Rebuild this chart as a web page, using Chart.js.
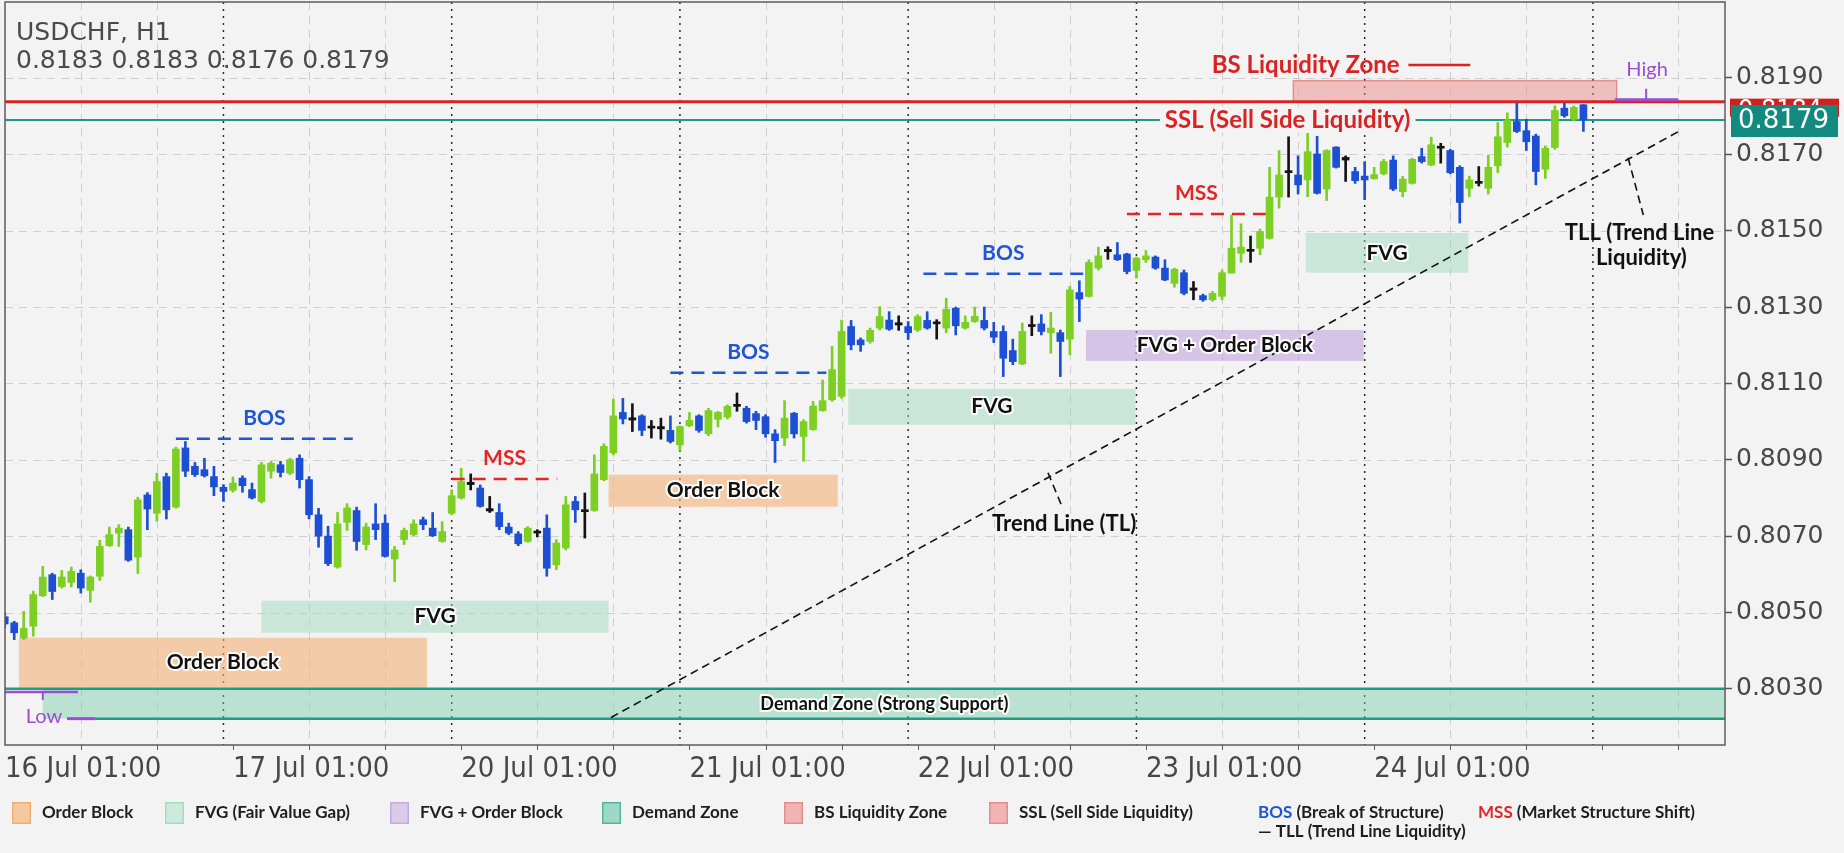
<!DOCTYPE html>
<html>
<head>
<meta charset="utf-8">
<script src="https://cdn.jsdelivr.net/npm/chart.js@4.4.1/dist/chart.umd.min.js"></script>
<style>
  html, body { margin: 0; padding: 0; background: #f3f3f3; }
  #wrap { width: 1844px; height: 853px; }
</style>
</head>
<body>
<div id="wrap"><canvas id="chart" width="1844" height="853"></canvas></div>
<script>
// ========== DATA ==========
const symbol = "USDCHF, H1";
const lastQuote = "0.8183 0.8183 0.8176 0.8179";

// H1 candles, the first one sits at index 1 (16 Jul 01:00 is index 0)
const opens = [
  0.80489, 0.80473, 0.80433, 0.80464, 0.80544, 0.80599, 0.80568, 0.80579, 0.80603, 0.80558,
  0.80595, 0.80675, 0.80708, 0.80717, 0.80645, 0.80808, 0.80760, 0.80856, 0.80776, 0.80931,
  0.80883, 0.80874, 0.80856, 0.80828, 0.80820, 0.80852, 0.80822, 0.80791, 0.80870, 0.80887,
  0.80865, 0.80904, 0.80848, 0.80756, 0.80700, 0.80619, 0.80736, 0.80767, 0.80678, 0.80732,
  0.80734, 0.80640, 0.80691, 0.80704, 0.80743, 0.80721, 0.80686, 0.80760, 0.80800, 0.80841,
  0.80826, 0.80772, 0.80762, 0.80724, 0.80706, 0.80686, 0.80712, 0.80721, 0.80625, 0.80669,
  0.80791, 0.80768, 0.80767, 0.80848, 0.80918, 0.81024, 0.81010, 0.81015, 0.80987, 0.80987,
  0.80977, 0.80939, 0.80989, 0.81015, 0.80968, 0.81006, 0.81012, 0.81044, 0.81035, 0.81021,
  0.81013, 0.80968, 0.80957, 0.81022, 0.80961, 0.80979, 0.81029, 0.81057, 0.81066, 0.81249,
  0.81214, 0.81210, 0.81245, 0.81266, 0.81259, 0.81249, 0.81240, 0.81265, 0.81260, 0.81245,
  0.81297, 0.81245, 0.81262, 0.81265, 0.81236, 0.81236, 0.81186, 0.81151, 0.81251, 0.81256,
  0.81233, 0.81233, 0.81216, 0.81338, 0.81328, 0.81402, 0.81451, 0.81437, 0.81439, 0.81396,
  0.81424, 0.81431, 0.81402, 0.81362, 0.81390, 0.81350, 0.81330, 0.81319, 0.81328, 0.81389,
  0.81441, 0.81450, 0.81454, 0.81480, 0.81588, 0.81657, 0.81646, 0.81633, 0.81701, 0.81609,
  0.81719, 0.81692, 0.81655, 0.81643, 0.81636, 0.81649, 0.81685, 0.81602, 0.81624, 0.81694,
  0.81672, 0.81720, 0.81710, 0.81666, 0.81611, 0.81628, 0.81611, 0.81670, 0.81731, 0.81786,
  0.81762, 0.81748, 0.81661, 0.81718, 0.81821, 0.81792, 0.81830
];
const highs = [
  0.80500, 0.80477, 0.80503, 0.80556, 0.80621, 0.80603, 0.80610, 0.80619, 0.80612, 0.80596,
  0.80689, 0.80724, 0.80730, 0.80724, 0.80802, 0.80814, 0.80865, 0.80865, 0.80933, 0.80948,
  0.80893, 0.80904, 0.80883, 0.80835, 0.80855, 0.80858, 0.80839, 0.80893, 0.80896, 0.80896,
  0.80904, 0.80913, 0.80856, 0.80773, 0.80726, 0.80762, 0.80785, 0.80776, 0.80734, 0.80785,
  0.80756, 0.80673, 0.80721, 0.80743, 0.80750, 0.80762, 0.80738, 0.80821, 0.80878, 0.80863,
  0.80834, 0.80804, 0.80785, 0.80734, 0.80712, 0.80725, 0.80717, 0.80756, 0.80691, 0.80804,
  0.80804, 0.80813, 0.80913, 0.80942, 0.81059, 0.81061, 0.81047, 0.81018, 0.81003, 0.81009,
  0.81015, 0.80989, 0.81024, 0.81018, 0.81035, 0.81027, 0.81044, 0.81075, 0.81040, 0.81027,
  0.81018, 0.80979, 0.81055, 0.81024, 0.81005, 0.81053, 0.81109, 0.81197, 0.81266, 0.81265,
  0.81219, 0.81245, 0.81301, 0.81288, 0.81277, 0.81262, 0.81280, 0.81288, 0.81267, 0.81323,
  0.81300, 0.81277, 0.81300, 0.81300, 0.81260, 0.81251, 0.81216, 0.81258, 0.81277, 0.81280,
  0.81286, 0.81240, 0.81354, 0.81369, 0.81424, 0.81457, 0.81458, 0.81469, 0.81441, 0.81431,
  0.81448, 0.81434, 0.81424, 0.81402, 0.81397, 0.81367, 0.81334, 0.81341, 0.81397, 0.81541,
  0.81518, 0.81486, 0.81504, 0.81666, 0.81710, 0.81746, 0.81696, 0.81760, 0.81747, 0.81712,
  0.81720, 0.81696, 0.81666, 0.81681, 0.81666, 0.81687, 0.81696, 0.81642, 0.81690, 0.81716,
  0.81745, 0.81729, 0.81713, 0.81670, 0.81643, 0.81668, 0.81698, 0.81783, 0.81809, 0.81834,
  0.81792, 0.81753, 0.81722, 0.81827, 0.81834, 0.81827, 0.81830
];
const lows = [
  0.80460, 0.80429, 0.80429, 0.80438, 0.80542, 0.80534, 0.80564, 0.80567, 0.80551, 0.80527,
  0.80584, 0.80673, 0.80673, 0.80634, 0.80602, 0.80717, 0.80739, 0.80745, 0.80773, 0.80856,
  0.80856, 0.80855, 0.80806, 0.80791, 0.80815, 0.80815, 0.80797, 0.80787, 0.80852, 0.80855,
  0.80861, 0.80826, 0.80745, 0.80671, 0.80623, 0.80616, 0.80715, 0.80663, 0.80664, 0.80691,
  0.80645, 0.80581, 0.80678, 0.80701, 0.80717, 0.80699, 0.80684, 0.80756, 0.80797, 0.80821,
  0.80776, 0.80762, 0.80717, 0.80704, 0.80675, 0.80684, 0.80698, 0.80595, 0.80612, 0.80664,
  0.80736, 0.80695, 0.80765, 0.80845, 0.80913, 0.80994, 0.80974, 0.80963, 0.80957, 0.80954,
  0.80944, 0.80924, 0.80987, 0.80972, 0.80963, 0.80986, 0.81007, 0.81027, 0.80996, 0.80979,
  0.80959, 0.80893, 0.80937, 0.80957, 0.80896, 0.80977, 0.81027, 0.81053, 0.81061, 0.81188,
  0.81184, 0.81205, 0.81240, 0.81239, 0.81239, 0.81216, 0.81236, 0.81242, 0.81216, 0.81233,
  0.81227, 0.81242, 0.81260, 0.81240, 0.81207, 0.81118, 0.81149, 0.81149, 0.81225, 0.81227,
  0.81179, 0.81118, 0.81175, 0.81262, 0.81326, 0.81397, 0.81425, 0.81422, 0.81387, 0.81376,
  0.81417, 0.81399, 0.81369, 0.81352, 0.81332, 0.81319, 0.81315, 0.81315, 0.81319, 0.81389,
  0.81417, 0.81417, 0.81437, 0.81478, 0.81559, 0.81588, 0.81596, 0.81589, 0.81596, 0.81579,
  0.81664, 0.81629, 0.81624, 0.81582, 0.81635, 0.81646, 0.81605, 0.81589, 0.81622, 0.81677,
  0.81670, 0.81677, 0.81649, 0.81520, 0.81589, 0.81617, 0.81596, 0.81652, 0.81719, 0.81757,
  0.81710, 0.81620, 0.81637, 0.81713, 0.81797, 0.81788, 0.81760
];
const closes = [
  0.80470, 0.80447, 0.80459, 0.80547, 0.80593, 0.80555, 0.80593, 0.80608, 0.80564, 0.80593,
  0.80673, 0.80704, 0.80721, 0.80637, 0.80795, 0.80771, 0.80843, 0.80769, 0.80928, 0.80870,
  0.80861, 0.80858, 0.80829, 0.80817, 0.80839, 0.80832, 0.80800, 0.80887, 0.80891, 0.80867,
  0.80900, 0.80848, 0.80756, 0.80700, 0.80628, 0.80732, 0.80774, 0.80686, 0.80724, 0.80717,
  0.80647, 0.80664, 0.80715, 0.80732, 0.80730, 0.80701, 0.80712, 0.80806, 0.80843, 0.80835,
  0.80778, 0.80766, 0.80725, 0.80708, 0.80680, 0.80721, 0.80708, 0.80616, 0.80682, 0.80782,
  0.80769, 0.80764, 0.80863, 0.80935, 0.81015, 0.81007, 0.81004, 0.80977, 0.80983, 0.80981,
  0.80948, 0.80987, 0.81003, 0.80977, 0.81029, 0.81024, 0.81040, 0.81040, 0.81000, 0.81003,
  0.80968, 0.80950, 0.81009, 0.80968, 0.81000, 0.81041, 0.81055, 0.81136, 0.81236, 0.81201,
  0.81201, 0.81239, 0.81275, 0.81242, 0.81253, 0.81233, 0.81275, 0.81245, 0.81256, 0.81294,
  0.81251, 0.81260, 0.81276, 0.81245, 0.81221, 0.81166, 0.81157, 0.81236, 0.81249, 0.81236,
  0.81245, 0.81210, 0.81345, 0.81321, 0.81417, 0.81434, 0.81445, 0.81424, 0.81393, 0.81428,
  0.81434, 0.81402, 0.81371, 0.81399, 0.81336, 0.81344, 0.81319, 0.81336, 0.81390, 0.81454,
  0.81457, 0.81446, 0.81498, 0.81588, 0.81646, 0.81652, 0.81620, 0.81707, 0.81598, 0.81710,
  0.81666, 0.81685, 0.81631, 0.81633, 0.81647, 0.81681, 0.81609, 0.81635, 0.81687, 0.81681,
  0.81725, 0.81716, 0.81652, 0.81574, 0.81633, 0.81624, 0.81666, 0.81746, 0.81790, 0.81760,
  0.81733, 0.81655, 0.81716, 0.81815, 0.81801, 0.81823, 0.81790
];

const dayLabels = ["16 Jul 01:00", "17 Jul 01:00", "20 Jul 01:00", "21 Jul 01:00",
                   "22 Jul 01:00", "23 Jul 01:00", "24 Jul 01:00"];
const dayStarts = [24, 48, 72, 96, 120, 144, 168]; // candle index of each new day
const yTicks = [0.8030, 0.8050, 0.8070, 0.8090, 0.8110, 0.8130, 0.8150, 0.8170, 0.8190];

const lastPrice = 0.8179;     // SSL line / current bid
const liquidityHigh = 0.81838; // red line under the BS zone

// ========== SMC MARKUP (candle index, price) ==========
const orderBlocks = [
  { from: 2.5, to: 45.4, top: 0.80434, bottom: 0.80303 },
  { from: 64.5, to: 88.6, top: 0.80861, bottom: 0.80777 }
];
const fvgZones = [
  { from: 28.0, to: 64.5, top: 0.80531, bottom: 0.80447 },
  { from: 89.7, to: 119.9, top: 0.81086, bottom: 0.80992 },
  { from: 137.8, to: 154.9, top: 0.81494, bottom: 0.81390 }
];
const fvgObZone = { from: 114.7, to: 143.9, top: 0.81240, bottom: 0.81159 };
const bsZone = { from: 136.5, to: 170.5, top: 0.81893, bottom: 0.81838 };
const demandZone = { from: 5.0, top: 0.80300, bottom: 0.80222, labelAt: 93.5 };
const bosLines = [
  { from: 19.0, to: 37.6, level: 0.80955 },
  { from: 71.0, to: 87.4, level: 0.81128 },
  { from: 97.6, to: 114.4, level: 0.81387 }
];
const mssLines = [
  { from: 48.0, to: 59.1, level: 0.80850 },
  { from: 119.0, to: 133.6, level: 0.81544 }
];
const trendLine = { from: 64.75, fromPrice: 0.80225, to: 176.95, toPrice: 0.81759 };
const highMark = { from: 170.3, to: 177.0, tick: 173.6, level: 0.81843 };
const lowMark = { from: 1.03, to: 8.7, tick: 5.0, level: 0.80292 };

// ========== LOOK ==========
const BG = "#f3f3f3";
const GREEN = "#7dcf24";
const BLUE = "#1c4fd3";
const DOJI = "#141414";
const RED = "#d92323";
const TEAL = "#1b9a8b";
const PURPLE = "#9b4fd0";
const X_MIN = 1.03, X_MAX = 181.89;
const Y_MIN = 0.80153, Y_MAX = 0.82099;

const candleColors = opens.map((o, i) => {
  const d = closes[i] - o;
  if (Math.abs(d) < 0.000075) return DOJI;
  return d > 0 ? GREEN : BLUE;
});
const bodies = opens.map((o, i) => ({ x: i + 1, y: [o, closes[i]] }));
const wicks = opens.map((o, i) => ({ x: i + 1, y: [lows[i], highs[i]] }));
const labelTicks = [X_MIN].concat(dayStarts.slice(0, 6).map((d) => d + 1));

// ========== HELPERS ==========
function hline(ctx, x1, x2, y) {
  ctx.beginPath(); ctx.moveTo(x1, y); ctx.lineTo(x2, y); ctx.stroke();
}
function vline(ctx, x, y1, y2) {
  ctx.beginPath(); ctx.moveTo(x, y1); ctx.lineTo(x, y2); ctx.stroke();
}
function seg(ctx, x1, y1, x2, y2) {
  ctx.beginPath(); ctx.moveTo(x1, y1); ctx.lineTo(x2, y2); ctx.stroke();
}
function haloText(ctx, text, x, y, font, color, halo) {
  ctx.font = font;
  ctx.textAlign = "center";
  ctx.textBaseline = "middle";
  if (halo) {
    ctx.lineJoin = "round";
    ctx.lineWidth = 4;
    ctx.strokeStyle = "rgba(255,255,255,0.95)";
    ctx.strokeText(text, x, y);
  }
  ctx.fillStyle = color;
  ctx.fillText(text, x, y);
}
function zoneRect(ctx, x, y, z, fill) {
  const x1 = x.getPixelForValue(z.from), x2 = x.getPixelForValue(z.to);
  const y1 = y.getPixelForValue(z.top), y2 = y.getPixelForValue(z.bottom);
  ctx.fillStyle = fill;
  ctx.fillRect(x1, y1, x2 - x1, y2 - y1);
}
// no extra edge padding for the axes, the plot runs to the canvas edges
function noEdgePadding(scale) {
  scale.paddingTop = 0;
  scale.paddingBottom = 0;
  scale.paddingLeft = 0;
  scale.paddingRight = 0;
}

// ========== OVERLAY PLUGIN ==========
const smcOverlay = {
  id: "smcOverlay",
  beforeDraw(chart) {
    const { ctx, width, height } = chart;
    ctx.save();
    ctx.fillStyle = BG;
    ctx.fillRect(0, 0, width, height);
    ctx.restore();
  },

  beforeDatasetsDraw(chart) {
    const { ctx, chartArea: a, scales: { x, y } } = chart;
    ctx.save();
    ctx.beginPath();
    ctx.rect(a.left, a.top, a.right - a.left, a.bottom - a.top);
    ctx.clip();

    // grid
    ctx.lineWidth = 1;
    ctx.strokeStyle = "#cfcfcf";
    ctx.setLineDash([8, 6]);
    yTicks.forEach((v) => hline(ctx, a.left, a.right, Math.round(y.getPixelForValue(v)) + 0.5));
    for (let i = 9; i < X_MAX; i += 8) {
      if ((i - 1) % 24 === 0) continue;
      vline(ctx, Math.round(x.getPixelForValue(i)) + 0.5, a.top, a.bottom);
    }
    ctx.strokeStyle = "#2a2a2a";
    ctx.lineWidth = 1.5;
    ctx.setLineDash([2, 5]);
    dayStarts.forEach((d) => vline(ctx, x.getPixelForValue(d), a.top, a.bottom));
    ctx.setLineDash([]);

    // zones
    orderBlocks.forEach((z) => zoneRect(ctx, x, y, z, "rgba(244,176,118,0.6)"));
    fvgZones.forEach((z) => zoneRect(ctx, x, y, z, "rgba(150,215,185,0.45)"));
    zoneRect(ctx, x, y, fvgObZone, "rgba(185,150,220,0.5)");

    // demand zone
    const dTop = y.getPixelForValue(demandZone.top), dBot = y.getPixelForValue(demandZone.bottom);
    const dx = x.getPixelForValue(demandZone.from);
    ctx.fillStyle = "rgba(120,205,170,0.45)";
    ctx.fillRect(dx, dTop, a.right - dx, dBot - dTop);
    ctx.strokeStyle = "#1f9c82";
    ctx.lineWidth = 2.5;
    hline(ctx, a.left, a.right, dTop);
    hline(ctx, x.getPixelForValue(10.5), a.right, dBot);

    // buy-side liquidity zone
    const b1 = x.getPixelForValue(bsZone.from), b2 = x.getPixelForValue(bsZone.to);
    const bt = y.getPixelForValue(bsZone.top), bb = y.getPixelForValue(bsZone.bottom);
    ctx.fillStyle = "rgba(235,140,140,0.5)";
    ctx.fillRect(b1, bt, b2 - b1, bb - bt);
    ctx.strokeStyle = "rgba(220,95,95,0.6)";
    ctx.lineWidth = 1.5;
    ctx.strokeRect(b1, bt, b2 - b1, bb - bt);

    // liquidity high + price line
    ctx.strokeStyle = RED;
    ctx.lineWidth = 3;
    hline(ctx, a.left, a.right, y.getPixelForValue(liquidityHigh));
    ctx.strokeStyle = TEAL;
    ctx.lineWidth = 2;
    hline(ctx, a.left, a.right, y.getPixelForValue(lastPrice));
    ctx.restore();
  },

  afterDatasetsDraw(chart) {
    const { ctx, chartArea: a, scales: { x, y } } = chart;
    const px = (v) => x.getPixelForValue(v);
    const py = (v) => y.getPixelForValue(v);
    ctx.save();
    ctx.beginPath();
    ctx.rect(a.left, a.top, a.right - a.left, a.bottom - a.top);
    ctx.clip();

    // BOS / MSS levels
    ctx.lineWidth = 2.5;
    ctx.setLineDash([13, 8]);
    ctx.strokeStyle = "#1f55d6";
    bosLines.forEach((l) => hline(ctx, px(l.from), px(l.to), py(l.level)));
    ctx.strokeStyle = "#e22626";
    mssLines.forEach((l) => hline(ctx, px(l.from), px(l.to), py(l.level)));

    // trend line
    ctx.strokeStyle = "#111";
    ctx.lineWidth = 1.6;
    ctx.setLineDash([8, 5]);
    seg(ctx, px(trendLine.from), py(trendLine.fromPrice), px(trendLine.to), py(trendLine.toPrice));
    // pointers
    seg(ctx, px(110.7), py(0.80866), px(112.1), py(0.80782));
    seg(ctx, px(171.7), py(0.81691), px(173.3), py(0.81541));
    ctx.setLineDash([]);

    // high / low brackets
    ctx.strokeStyle = PURPLE;
    ctx.lineWidth = 3;
    hline(ctx, px(highMark.from), px(highMark.to), py(highMark.level));
    ctx.lineWidth = 2;
    vline(ctx, px(highMark.tick), py(highMark.level) - 11, py(highMark.level));
    ctx.lineWidth = 2.5;
    hline(ctx, px(lowMark.from), px(lowMark.to), py(lowMark.level));
    ctx.lineWidth = 2;
    vline(ctx, px(lowMark.tick), py(lowMark.level), py(lowMark.level) + 8);
    ctx.lineWidth = 3;
    hline(ctx, px(7.55), px(10.5), py(demandZone.bottom));

    // zone labels
    const zf = "bold 21px Lato, sans-serif";
    orderBlocks.forEach((z) => haloText(ctx, "Order Block", (px(z.from) + px(z.to)) / 2, (py(z.top) + py(z.bottom)) / 2, zf, "#111", true));
    fvgZones.forEach((z) => haloText(ctx, "FVG", (px(z.from) + px(z.to)) / 2, (py(z.top) + py(z.bottom)) / 2, zf, "#111", true));
    haloText(ctx, "FVG + Order Block", (px(fvgObZone.from) + px(fvgObZone.to)) / 2, (py(fvgObZone.top) + py(fvgObZone.bottom)) / 2, zf, "#111", true);
    haloText(ctx, "Demand Zone (Strong Support)", px(demandZone.labelAt), (py(demandZone.top) + py(demandZone.bottom)) / 2, "bold 18px Lato, sans-serif", "#111", true);

    // structure labels
    bosLines.forEach((l) => haloText(ctx, "BOS", (px(l.from) + px(l.to)) / 2, py(l.level) - 21, "bold 21px Lato, sans-serif", "#1f55d6", false));
    mssLines.forEach((l) => haloText(ctx, "MSS", (px(l.from) + px(l.to)) / 2, py(l.level) - 21, "bold 21px Lato, sans-serif", "#e22626", false));

    // BS liquidity label
    haloText(ctx, "BS Liquidity Zone", px(137.8), py(0.81934), "bold 24px Lato, sans-serif", RED, false);
    ctx.strokeStyle = RED;
    ctx.lineWidth = 2.5;
    hline(ctx, px(148.6), px(155.1), py(0.81934));

    // SSL label sits on the price line
    ctx.font = "bold 24px Lato, sans-serif";
    const sslW = ctx.measureText("SSL (Sell Side Liquidity)").width;
    const sx = px(135.9), sy = py(lastPrice);
    ctx.fillStyle = BG;
    ctx.fillRect(sx - sslW / 2 - 5, sy - 13, sslW + 10, 26);
    haloText(ctx, "SSL (Sell Side Liquidity)", sx, sy, "bold 24px Lato, sans-serif", RED, false);

    haloText(ctx, "High", px(173.7), py(0.81921), "20px Lato, sans-serif", PURPLE, false);
    haloText(ctx, "Low", px(5.13), py(0.80227), "20px Lato, sans-serif", PURPLE, false);

    haloText(ctx, "Trend Line (TL)", px(112.4), py(0.80732), "bold 22px Lato, sans-serif", "#111", false);
    haloText(ctx, "TLL (Trend Line", px(172.9), py(0.81494), "bold 22px Lato, sans-serif", "#111", false);
    haloText(ctx, "Liquidity)", px(173.1), py(0.81429), "bold 22px Lato, sans-serif", "#111", false);
    ctx.restore();
  },

  afterDraw(chart) {
    const { ctx, chartArea: a, scales: { x, y } } = chart;
    ctx.save();
    // frame
    ctx.strokeStyle = "#5c5c5c";
    ctx.lineWidth = 1.5;
    ctx.strokeRect(a.left, a.top, a.right - a.left, a.bottom - a.top);
    // small time ticks
    ctx.lineWidth = 1;
    for (let i = 9; i < X_MAX; i += 8) {
      vline(ctx, Math.round(x.getPixelForValue(i)) + 0.5, a.bottom, a.bottom + 5);
    }

    // price tags on the axis (red one sits mostly under the teal one)
    const ry = y.getPixelForValue(liquidityHigh);
    ctx.fillStyle = "#d11f1f";
    ctx.fillRect(a.right + 5, ry - 3, 109, 18);
    ctx.fillStyle = "#fff";
    ctx.font = "24px 'DejaVu Sans', sans-serif";
    ctx.textAlign = "left";
    ctx.textBaseline = "middle";
    ctx.fillText("0.8184", a.right + 13, ry + 9);
    const ty = y.getPixelForValue(lastPrice);
    ctx.fillStyle = "#138a7f";
    ctx.fillRect(a.right + 6, ty - 15, 107, 32);
    ctx.fillStyle = "#fff";
    ctx.font = "26px 'DejaVu Sans', sans-serif";
    ctx.fillText(lastPrice.toFixed(4), a.right + 13, ty + 1);

    // header
    ctx.fillStyle = "#4a4a4a";
    ctx.font = "25px 'DejaVu Sans', sans-serif";
    ctx.fillText(symbol, 16, 33);
    ctx.fillText(lastQuote, 16, 61);

    // legend
    const swatches = [
      { x: 12, text: "Order Block", fill: "#f5c9a0", line: "#efae74" },
      { x: 165, text: "FVG (Fair Value Gap)", fill: "#cdebdc", line: "#a6dbc1" },
      { x: 390, text: "FVG + Order Block", fill: "#dacbea", line: "#c4aadf" },
      { x: 602, text: "Demand Zone", fill: "#9fd9c5", line: "#52b79a" },
      { x: 784, text: "BS Liquidity Zone", fill: "#f1b3b3", line: "#e58c8c" },
      { x: 989, text: "SSL (Sell Side Liquidity)", fill: "#f1b3b3", line: "#e58c8c" }
    ];
    const rowY = 813;
    ctx.font = "bold 17px Lato, sans-serif";
    swatches.forEach((s) => {
      ctx.fillStyle = s.fill;
      ctx.fillRect(s.x, rowY - 11, 19, 22);
      ctx.strokeStyle = s.line;
      ctx.lineWidth = 1.5;
      ctx.strokeRect(s.x + 0.75, rowY - 10.25, 17.5, 20.5);
      ctx.fillStyle = "#1e1e1e";
      ctx.fillText(s.text, s.x + 30, rowY);
    });
    const keyed = [
      { x: 1258, key: "BOS", color: "#1f55d6", rest: " (Break of Structure)" },
      { x: 1478, key: "MSS", color: "#e22626", rest: " (Market Structure Shift)" }
    ];
    keyed.forEach((k) => {
      ctx.fillStyle = k.color;
      ctx.fillText(k.key, k.x, rowY);
      const w = ctx.measureText(k.key).width;
      ctx.fillStyle = "#1e1e1e";
      ctx.fillText(k.rest, k.x + w, rowY);
    });
    ctx.fillText("\u2014 TLL (Trend Line Liquidity)", 1258, rowY + 19);
    ctx.restore();
  }
};

// ========== CHART ==========
const ctx = document.getElementById("chart");
new Chart(ctx, {
  type: "bar",
  data: {
    datasets: [
      {
        label: "Body",
        data: bodies,
        backgroundColor: candleColors,
        barThickness: 7,
        minBarLength: 2,
        grouped: false,
        borderWidth: 0
      },
      {
        label: "Wick",
        data: wicks,
        backgroundColor: candleColors,
        barThickness: 2,
        grouped: false,
        borderWidth: 0
      }
    ]
  },
  options: {
    responsive: false,
    animation: false,
    layout: { padding: { left: 5, top: 2, right: 0, bottom: 0 } },
    plugins: { legend: { display: false }, tooltip: { enabled: false } },
    scales: {
      x: {
        type: "linear",
        min: X_MIN,
        max: X_MAX,
        offset: false,
        grid: { display: false, drawTicks: false },
        border: { display: false },
        afterBuildTicks: (scale) => { scale.ticks = labelTicks.map((v) => ({ value: v })); },
        afterFit: (scale) => { scale.height = 108; noEdgePadding(scale); },
        ticks: {
          autoSkip: false,
          maxRotation: 0,
          align: "start",
          padding: 7,
          color: "#474747",
          font: { family: "'DejaVu Sans Condensed', 'DejaVu Sans', sans-serif", size: 29 },
          callback: (v, i) => dayLabels[i]
        }
      },
      y: {
        position: "right",
        min: Y_MIN,
        max: Y_MAX,
        grid: { drawOnChartArea: false, tickLength: 7, tickColor: "#555", tickWidth: 1.5 },
        border: { display: false },
        afterBuildTicks: (scale) => { scale.ticks = yTicks.map((v) => ({ value: v })); },
        afterFit: (scale) => { scale.width = 119; noEdgePadding(scale); },
        ticks: {
          padding: 4,
          color: "#474747",
          font: { family: "'DejaVu Sans', sans-serif", size: 25 },
          callback: (v) => v.toFixed(4)
        }
      }
    }
  },
  plugins: [smcOverlay]
});
</script>
</body>
</html>
